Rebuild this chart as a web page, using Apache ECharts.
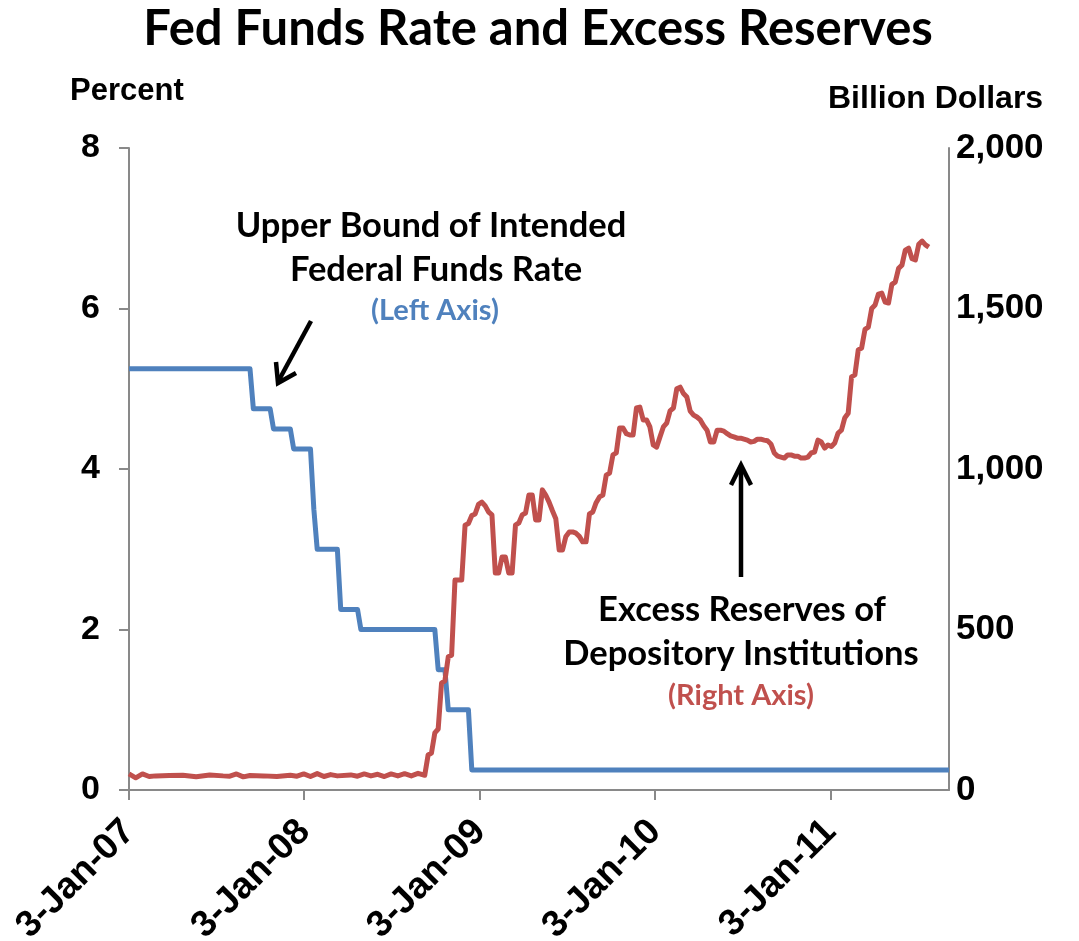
<!DOCTYPE html>
<html>
<head>
<meta charset="utf-8">
<title>Fed Funds Rate and Excess Reserves</title>
<script src="https://cdn.jsdelivr.net/npm/echarts@6/dist/echarts.min.js"></script>
<style>
  html, body { margin: 0; padding: 0; background: #fff; }
  #main { width: 1079px; height: 941px; }
</style>
</head>
<body>
<div id="main"></div>
<script>
// upper bound of intended fed funds rate, percent (left axis)
var rateDates = ['2007-01-03', '2007-09-12', '2007-09-19', '2007-10-24', '2007-10-31',
  '2007-12-05', '2007-12-12', '2008-01-16', '2008-01-23', '2008-01-30', '2008-03-12',
  '2008-03-19', '2008-04-23', '2008-04-30', '2008-10-01', '2008-10-08', '2008-10-22',
  '2008-10-29', '2008-12-10', '2008-12-17', '2011-09-07'];
var rateValues = [5.25, 5.25, 4.75, 4.75, 4.5, 4.5, 4.25, 4.25, 3.5, 3.0, 3.0,
  2.25, 2.25, 2.0, 2.0, 1.5, 1.5, 1.0, 1.0, 0.25, 0.25];

// excess reserves of depository institutions, billion dollars (right axis)
var reserveDates = [
  '2007-01-03', '2007-01-17', '2007-01-31', '2007-02-14', '2007-02-28', '2007-03-28',
  '2007-04-25', '2007-05-23', '2007-06-20', '2007-07-18', '2007-08-01', '2007-08-15',
  '2007-08-29', '2007-09-12', '2007-10-10', '2007-11-07', '2007-12-05', '2007-12-19',
  '2008-01-02', '2008-01-16', '2008-01-30', '2008-02-13', '2008-02-27', '2008-03-12',
  '2008-04-09', '2008-04-23', '2008-05-07', '2008-05-21', '2008-06-04', '2008-06-18',
  '2008-07-02', '2008-07-16', '2008-07-30', '2008-08-13', '2008-08-27', '2008-09-10',
  '2008-09-17', '2008-09-24', '2008-10-01', '2008-10-08', '2008-10-15', '2008-10-22',
  '2008-10-29', '2008-11-05', '2008-11-12', '2008-11-19', '2008-11-26', '2008-12-03',
  '2008-12-10', '2008-12-17', '2008-12-24', '2008-12-31',
  '2009-01-07', '2009-01-14', '2009-01-21', '2009-01-28', '2009-02-04', '2009-02-11',
  '2009-02-18', '2009-02-25', '2009-03-04', '2009-03-11', '2009-03-18', '2009-03-25',
  '2009-04-01', '2009-04-08', '2009-04-15', '2009-04-22', '2009-04-29', '2009-05-06',
  '2009-05-13', '2009-05-20', '2009-05-27', '2009-06-03', '2009-06-10', '2009-06-17',
  '2009-06-24', '2009-07-01', '2009-07-08', '2009-07-15', '2009-07-22', '2009-07-29',
  '2009-08-05', '2009-08-12', '2009-08-19', '2009-08-26', '2009-09-02', '2009-09-09',
  '2009-09-16', '2009-09-23', '2009-09-30', '2009-10-07', '2009-10-14', '2009-10-21',
  '2009-10-28', '2009-11-04', '2009-11-11', '2009-11-18', '2009-11-25', '2009-12-02',
  '2009-12-09', '2009-12-16', '2009-12-23', '2009-12-30',
  '2010-01-06', '2010-01-13', '2010-01-20', '2010-01-27', '2010-02-03', '2010-02-10',
  '2010-02-17', '2010-02-24', '2010-03-03', '2010-03-10', '2010-03-17', '2010-03-24',
  '2010-03-31', '2010-04-07', '2010-04-14', '2010-04-21', '2010-04-28', '2010-05-05',
  '2010-05-12', '2010-05-19', '2010-05-26', '2010-06-02', '2010-06-09', '2010-06-16',
  '2010-06-23', '2010-06-30', '2010-07-07', '2010-07-14', '2010-07-21', '2010-07-28',
  '2010-08-04', '2010-08-11', '2010-08-18', '2010-08-25', '2010-09-01', '2010-09-08',
  '2010-09-15', '2010-09-22', '2010-09-29', '2010-10-06', '2010-10-13', '2010-10-20',
  '2010-10-27', '2010-11-03', '2010-11-10', '2010-11-17', '2010-11-24', '2010-12-01',
  '2010-12-08', '2010-12-15', '2010-12-22', '2010-12-29',
  '2011-01-05', '2011-01-12', '2011-01-19', '2011-01-26', '2011-02-02', '2011-02-09',
  '2011-02-16', '2011-02-23', '2011-03-02', '2011-03-09', '2011-03-16', '2011-03-23',
  '2011-03-30', '2011-04-06', '2011-04-13', '2011-04-20', '2011-04-27', '2011-05-04',
  '2011-05-11', '2011-05-18', '2011-05-25', '2011-06-01', '2011-06-08', '2011-06-15',
  '2011-06-22', '2011-06-29', '2011-07-06', '2011-07-13', '2011-07-20', '2011-07-27'
];
var reserveValues = [
  50, 38, 50, 42, 44, 45,
  46, 41, 47, 44, 43, 50,
  41, 45, 44, 42, 46, 43,
  50, 42, 51, 42, 48, 44,
  47, 43, 50, 44, 49, 42,
  50, 44, 51, 44, 52, 46,
  109, 115, 178, 190, 333, 340,
  415, 420, 654, 654, 654, 825,
  830, 855, 860, 890,
  897, 885, 866, 857, 676, 676,
  726, 726, 676, 676, 825, 832,
  857, 863, 919, 919, 841, 841,
  935, 919, 897, 870, 845, 748,
  748, 790, 804, 804, 800, 790,
  773, 773, 860, 866, 895, 913,
  919, 981, 987, 1044, 1050, 1128,
  1128, 1110, 1106, 1106, 1190, 1193,
  1153, 1153, 1131, 1075,
  1068, 1100, 1131, 1143, 1181, 1190,
  1250, 1255, 1235, 1224, 1180, 1168,
  1162, 1153, 1135, 1121, 1084, 1084,
  1121, 1121, 1118, 1110, 1103, 1100,
  1096, 1096, 1093, 1090, 1084, 1086,
  1093, 1093, 1090, 1088, 1078, 1050,
  1040, 1037, 1034, 1044, 1044, 1040,
  1040, 1034, 1034, 1037, 1050, 1053,
  1090, 1084, 1065, 1075,
  1070, 1081, 1112, 1121, 1160, 1174,
  1287, 1293, 1371, 1377, 1435, 1442,
  1500, 1511, 1545, 1548, 1520, 1517,
  1575, 1582, 1625, 1635, 1682, 1688,
  1655, 1651, 1700, 1710, 1698, 1691
];

// axis ticks
var xTickDates = ['2007-01-03', '2008-01-03', '2009-01-03', '2010-01-03', '2011-01-03'];
var xTickLabels = ['3-Jan-07', '3-Jan-08', '3-Jan-09', '3-Jan-10', '3-Jan-11'];
var leftTickLabels = ['0', '2', '4', '6', '8'];
var rightTickLabels = ['0', '500', '1,000', '1,500', '2,000'];

var xStart = '2007-01-03';
var xEnd = '2011-09-07';

function ts(d) { return Date.parse(d + 'T00:00:00Z'); }

var xTickValues = xTickDates.map(ts);

function pairs(dates, vals) {
  var out = [];
  for (var i = 0; i < dates.length; i++) out.push([ts(dates[i]), vals[i]]);
  return out;
}

var blue = '#4F81BD';
var red = '#C0504D';
var axisGray = '#898989';
var titleFont = 'Lato, "Open Sans", sans-serif';
var axisFont = '"Liberation Sans", Arial, sans-serif';

var chart = echarts.init(document.getElementById('main'), null, { renderer: 'canvas' });

var option = {
  animation: false,
  backgroundColor: '#fff',
  grid: { left: 129, right: 130, top: 148, bottom: 151, containLabel: false, outerBoundsMode: 'none' },
  xAxis: {
    type: 'value',
    min: ts(xStart),
    max: ts(xEnd),
    splitLine: { show: false },
    axisLine: { show: true, lineStyle: { color: axisGray, width: 2 } },
    axisTick: { show: true, length: 10, customValues: xTickValues, lineStyle: { color: axisGray, width: 2 } },
    axisLabel: {
      customValues: xTickValues,
      rotate: 45,
      margin: 36,
      color: '#000',
      fontSize: 37,
      fontWeight: 'bold',
      fontFamily: axisFont,
      formatter: function (v) {
        var i = xTickValues.indexOf(v);
        return i >= 0 ? xTickLabels[i] : '';
      }
    }
  },
  yAxis: [
    {
      type: 'value',
      position: 'left',
      min: 0, max: 8, interval: 2,
      splitLine: { show: false },
      axisLine: { show: true, lineStyle: { color: axisGray, width: 2 } },
      axisTick: { show: true, length: 10, lineStyle: { color: axisGray, width: 2 } },
      axisLabel: {
        margin: 29, color: '#000', fontSize: 34, fontWeight: 'bold', fontFamily: axisFont,
        formatter: function (v) { return leftTickLabels[Math.round(v / 2)]; }
      }
    },
    {
      type: 'value',
      position: 'right',
      min: 0, max: 2000, interval: 500,
      splitLine: { show: false },
      axisLine: { show: true, lineStyle: { color: axisGray, width: 2 } },
      axisTick: { show: false },
      axisLabel: {
        margin: 7, color: '#000', fontSize: 35, fontWeight: 'bold', fontFamily: axisFont,
        formatter: function (v) { return rightTickLabels[Math.round(v / 500)]; }
      }
    }
  ],
  series: [
    {
      name: 'Upper Bound of Intended Federal Funds Rate',
      type: 'line',
      yAxisIndex: 0,
      data: pairs(rateDates, rateValues),
      showSymbol: false,
      lineStyle: { color: blue, width: 5, join: 'round' },
      itemStyle: { color: blue },
      z: 2
    },
    {
      name: 'Excess Reserves of Depository Institutions',
      type: 'line',
      yAxisIndex: 1,
      data: pairs(reserveDates, reserveValues),
      showSymbol: false,
      lineStyle: { color: red, width: 5, join: 'round' },
      itemStyle: { color: red },
      z: 3
    }
  ],
  graphic: [
    { type: 'text', x: 538, y: 29,
      style: { text: 'Fed Funds Rate and Excess Reserves', fill: '#000', align: 'center', verticalAlign: 'middle', font: 'bold 49px ' + titleFont } },
    { type: 'text', left: 70, top: 76,
      style: { text: 'Percent', fill: '#000', font: 'bold 31px ' + axisFont } },
    { type: 'text', left: 828, top: 83,
      style: { text: 'Billion Dollars', fill: '#000', font: 'bold 32px ' + axisFont } },

    { type: 'text', x: 431, y: 226,
      style: { text: 'Upper Bound of Intended', fill: '#000', align: 'center', verticalAlign: 'middle', font: 'bold 34.5px ' + titleFont } },
    { type: 'text', x: 436, y: 270,
      style: { text: 'Federal Funds Rate', fill: '#000', align: 'center', verticalAlign: 'middle', font: 'bold 34.5px ' + titleFont } },
    { type: 'text', x: 435, y: 311,
      style: { text: '(Left Axis)', fill: blue, align: 'center', verticalAlign: 'middle', font: 'bold 29px ' + titleFont } },

    { type: 'text', x: 742, y: 610,
      style: { text: 'Excess Reserves of', fill: '#000', align: 'center', verticalAlign: 'middle', font: 'bold 34.5px ' + titleFont } },
    { type: 'text', x: 741, y: 654,
      style: { text: 'Depository Institutions', fill: '#000', align: 'center', verticalAlign: 'middle', font: 'bold 34.5px ' + titleFont } },
    { type: 'text', x: 741, y: 696,
      style: { text: '(Right Axis)', fill: red, align: 'center', verticalAlign: 'middle', font: 'bold 29px ' + titleFont } },

    // arrows
    { type: 'line', shape: { x1: 311, y1: 321, x2: 279, y2: 380 },
      style: { stroke: '#000', lineWidth: 4.5 } },
    { type: 'polyline', shape: { points: [[276, 362], [278, 383], [296, 373]] },
      style: { stroke: '#000', lineWidth: 4.5, fill: null, lineJoin: 'miter' } },
    { type: 'line', shape: { x1: 741, y1: 577, x2: 741, y2: 466 },
      style: { stroke: '#000', lineWidth: 4.5 } },
    { type: 'polyline', shape: { points: [[731, 485], [741, 465], [751, 485]] },
      style: { stroke: '#000', lineWidth: 4.5, fill: null, lineJoin: 'miter' } }
  ]
};

chart.setOption(option);
</script>
</body>
</html>
